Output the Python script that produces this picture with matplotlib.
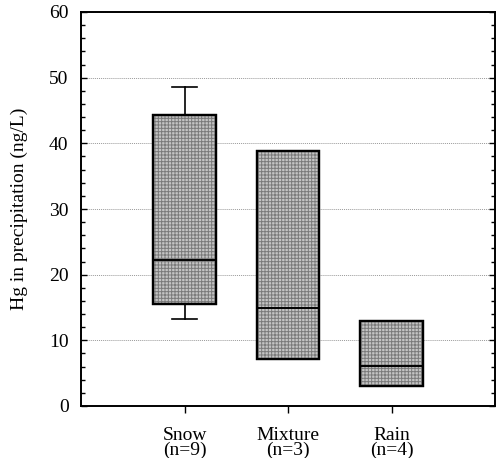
import matplotlib
matplotlib.use("Agg")
import matplotlib.pyplot as plt
from matplotlib.patches import PathPatch
from matplotlib.ticker import MultipleLocator

# box statistics (ng/L)
categories = ["Snow", "Mixture", "Rain"]
counts = [9, 3, 4]
q1 = [15.5, 7.2, 3.0]
medians = [22.3, 14.9, 6.1]
q3 = [44.3, 38.8, 12.9]
whisk_lo = [13.3, 7.2, 3.0]
whisk_hi = [48.6, 38.8, 12.9]

plt.rcParams["font.family"] = ["Liberation Serif", "DejaVu Serif"]
plt.rcParams["hatch.linewidth"] = 0.7

fig = plt.figure(figsize=(4.97, 4.58), dpi=100)
ax = fig.add_axes([81 / 497, 52 / 458, 414 / 497, 394 / 458])

stats = []
for i, name in enumerate(categories):
    stats.append({
        "label": f"{name}\n(n={counts[i]})",
        "q1": q1[i], "med": medians[i], "q3": q3[i],
        "whislo": whisk_lo[i], "whishi": whisk_hi[i], "fliers": [],
    })

positions = [1, 2, 3]
bp = ax.bxp(stats, positions=positions, widths=0.6, patch_artist=True,
            showfliers=False,
            boxprops=dict(facecolor="#c4c4c4", edgecolor="black", linewidth=1.6),
            medianprops=dict(color="black", linewidth=1.4),
            whiskerprops=dict(color="black", linewidth=1.2),
            capprops=dict(color="black", linewidth=1.2),
            capwidths=0.24)

# stipple texture on top of the fill, outline drawn again above it
for box in bp["boxes"]:
    box.set_zorder(3)
    tex = PathPatch(box.get_path(), transform=box.get_transform(),
                    facecolor="none", edgecolor="#7a7a7a", hatch="+++++",
                    linewidth=0, zorder=3.5)
    ax.add_patch(tex)
    edge = PathPatch(box.get_path(), transform=box.get_transform(),
                     facecolor="none", edgecolor="black", linewidth=1.6, zorder=4)
    ax.add_patch(edge)
for ln in bp["medians"] + bp["whiskers"] + bp["caps"]:
    ln.set_zorder(5)

ax.set_xlim(0, 4)
ax.set_ylim(0, 60)
ax.yaxis.set_major_locator(MultipleLocator(10))
ax.yaxis.set_minor_locator(MultipleLocator(2))
ax.grid(axis="y", which="major", color="#9a9a9a", linestyle=(0, (1, 1)), linewidth=0.7)
ax.set_axisbelow(True)

ax.tick_params(axis="y", which="both", direction="in", left=True, right=True,
               labelsize=14, width=1.0)
ax.tick_params(axis="y", which="major", length=4, pad=9)
ax.tick_params(axis="y", which="minor", length=3)
ax.tick_params(axis="x", direction="out", length=5, width=1.0, labelsize=14, pad=10)
for lbl in ax.get_xticklabels():
    lbl.set_linespacing(0.85)

for sp in ax.spines.values():
    sp.set_linewidth(1.4)

ax.set_ylabel("Hg in precipitation (ng/L)", fontsize=14, labelpad=15)

fig.savefig("out.png", dpi=100)
